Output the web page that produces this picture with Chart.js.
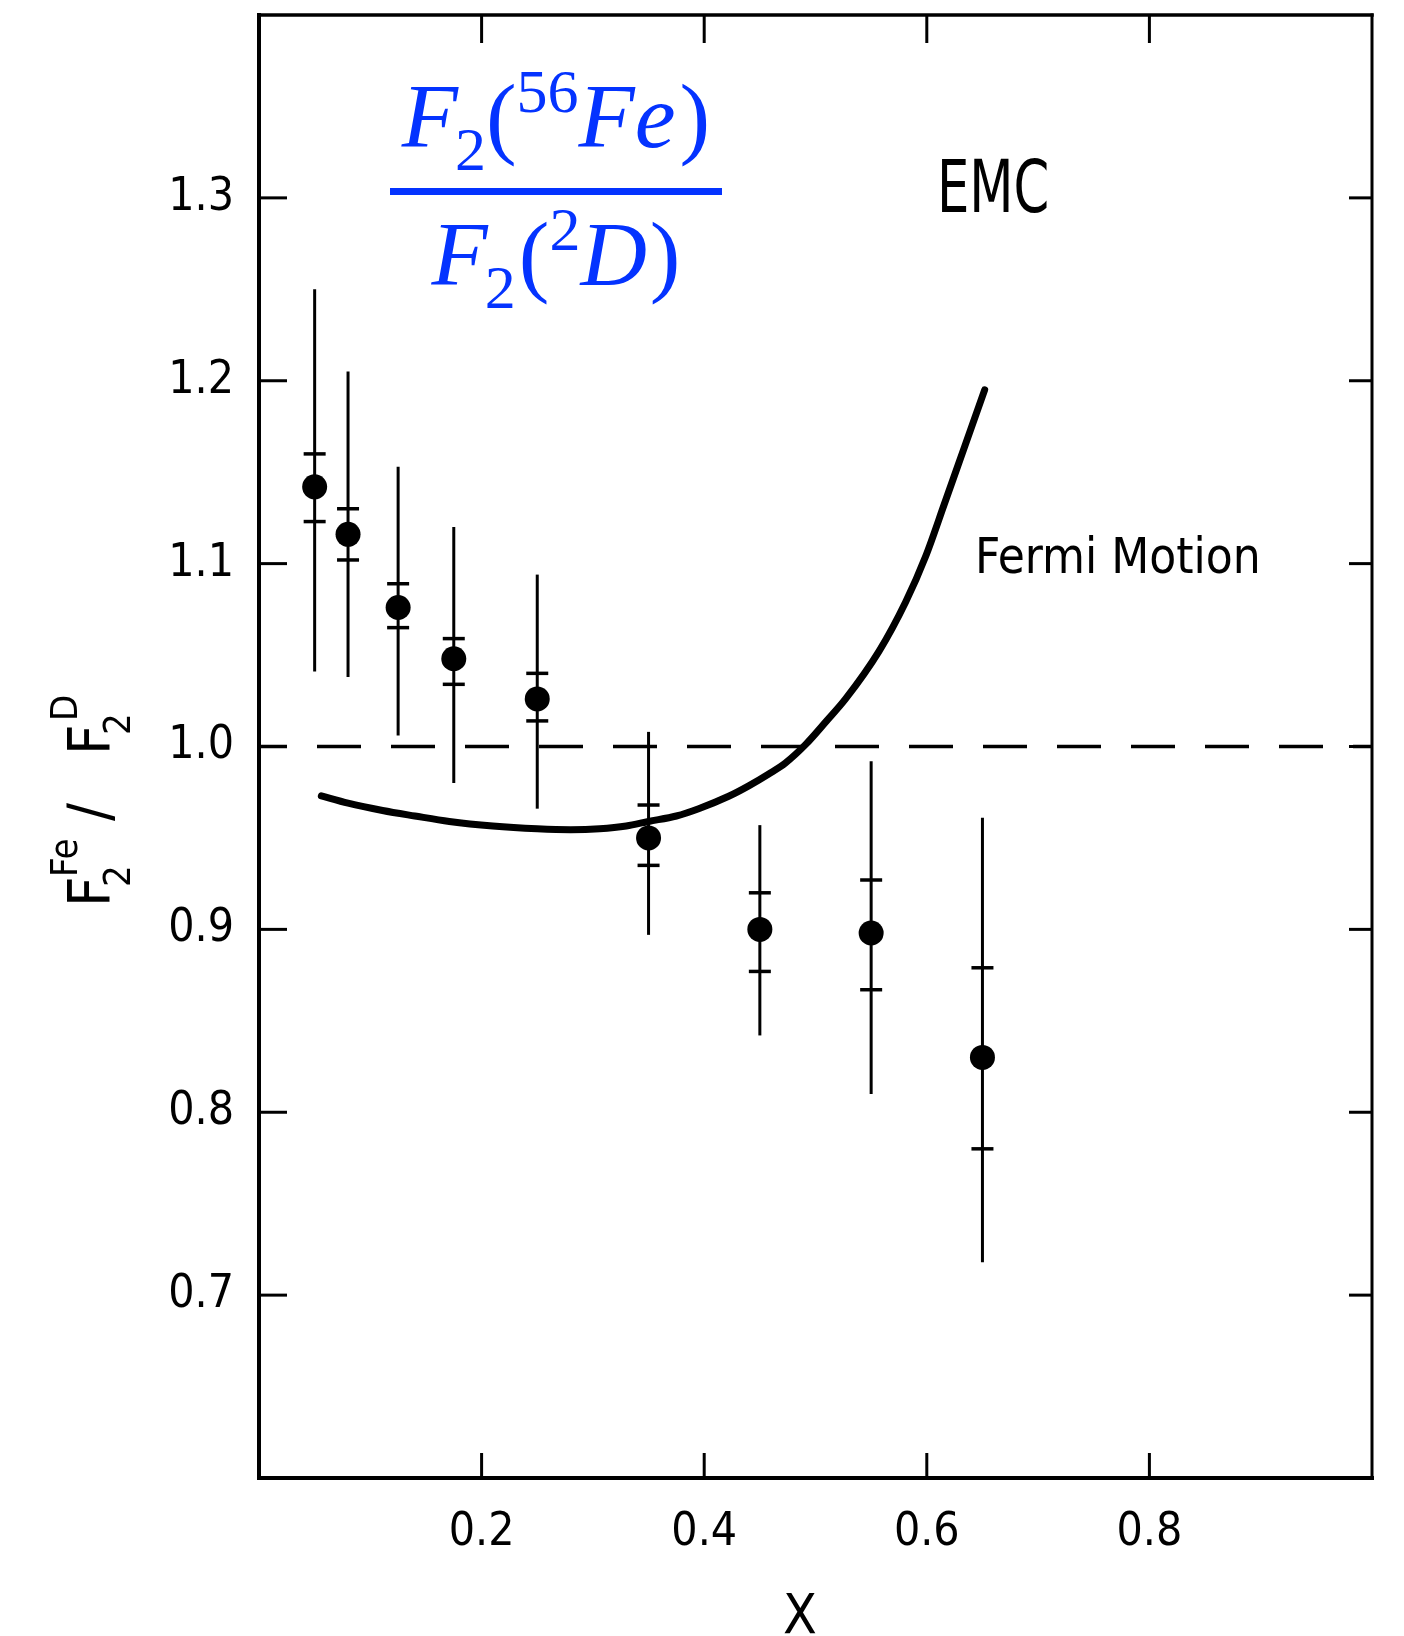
<!DOCTYPE html>
<html><head><meta charset="utf-8">
<script src="https://cdn.jsdelivr.net/npm/chart.js@4.4.1/dist/chart.umd.min.js"></script>
<style>html,body{margin:0;padding:0;background:#fff;}canvas{display:block;}</style>
</head><body>
<canvas id="c" width="1404" height="1636"></canvas>
<script>
// ---- data ----
const xValues    = [0.05, 0.08, 0.125, 0.175, 0.25, 0.35, 0.45, 0.55, 0.65];
const ratioValues= [1.142, 1.116, 1.076, 1.048, 1.026, 0.950, 0.900, 0.898, 0.830];
const totalLow   = [1.041, 1.038, 1.006, 0.980, 0.966, 0.897, 0.842, 0.810, 0.718];
const totalHigh  = [1.250, 1.205, 1.153, 1.120, 1.094, 1.008, 0.957, 0.992, 0.961];
const statLow    = [1.123, 1.102, 1.065, 1.034, 1.014, 0.935, 0.877, 0.867, 0.780];
const statHigh   = [1.160, 1.130, 1.089, 1.059, 1.040, 0.968, 0.920, 0.927, 0.879];
const fermiX = [0.056, 0.080, 0.111, 0.140, 0.171, 0.210, 0.250, 0.280, 0.306, 0.330, 0.350, 0.375, 0.395, 0.422, 0.440, 0.458, 0.473, 0.491, 0.510, 0.527, 0.557, 0.581, 0.599, 0.616, 0.634, 0.652];
const fermiY = [0.973, 0.969, 0.965, 0.962, 0.959, 0.9565, 0.955, 0.9545, 0.955, 0.9565, 0.959, 0.962, 0.966, 0.9728, 0.9785, 0.985, 0.991, 1.001, 1.014, 1.026, 1.052, 1.079, 1.104, 1.133, 1.164, 1.195];
const unityX = [0, 1];
const unityY = [1.0, 1.0];
const xTickValues = [0.2, 0.4, 0.6, 0.8];
const yTickValues = [0.7, 0.8, 0.9, 1.0, 1.1, 1.2, 1.3];
const xRange = [0, 1];
const yRange = [0.6, 1.4];

const COND = "'DejaVu Sans Condensed', 'DejaVu Sans', sans-serif";
const SERIF = "'Liberation Serif', 'DejaVu Serif', serif";
const BLUE = '#0433ff';

function seg(ctx, x1, y1, x2, y2, w) {
  ctx.lineWidth = w; ctx.beginPath(); ctx.moveTo(x1, y1); ctx.lineTo(x2, y2); ctx.stroke();
}

const errorBars = {
  id: 'errorBars',
  beforeDatasetsDraw(chart) {
    const {ctx, scales: {x, y}} = chart;
    ctx.save();
    ctx.strokeStyle = '#000';
    ctx.lineCap = 'butt';
    for (let i = 0; i < xValues.length; i++) {
      const px = x.getPixelForValue(xValues[i]);
      seg(ctx, px, y.getPixelForValue(totalLow[i]), px, y.getPixelForValue(totalHigh[i]), 3);
      [statLow[i], statHigh[i]].forEach(v => {
        const py = y.getPixelForValue(v);
        seg(ctx, px - 11, py, px + 11, py, 3.5);
      });
    }
    ctx.restore();
  }
};

function drawRun(ctx, parts, x, baseY) {
  let cx = x;
  parts.forEach(p => { ctx.font = p[1]; ctx.fillText(p[0], cx, baseY + p[2]); cx += ctx.measureText(p[0]).width + (p[3] || 0); });
  return cx - x;
}
function runWidth(ctx, parts) {
  let w = 0;
  parts.forEach(p => { ctx.font = p[1]; w += ctx.measureText(p[0]).width + (p[3] || 0); });
  return w;
}

const decor = {
  id: 'decor',
  afterDraw(chart) {
    const {ctx, chartArea: a, scales: {x, y}} = chart;
    ctx.save();
    ctx.strokeStyle = '#000';
    ctx.fillStyle = '#000';
    ctx.lineCap = 'square';
    // frame
    seg(ctx, a.left, a.top, a.left, a.bottom, 4);
    seg(ctx, a.left, a.bottom, a.right, a.bottom, 4);
    seg(ctx, a.left, a.top, a.right, a.top, 3.5);
    seg(ctx, a.right, a.top, a.right, a.bottom, 3);
    ctx.lineCap = 'butt';
    // inward ticks
    y.ticks.forEach(t => {
      const py = y.getPixelForValue(t.value);
      seg(ctx, a.left, py, a.left + 28, py, 3);
      seg(ctx, a.right, py, a.right - 23, py, 3);
    });
    x.ticks.forEach(t => {
      const px = x.getPixelForValue(t.value);
      seg(ctx, px, a.bottom, px, a.bottom - 25, 3);
      seg(ctx, px, a.top, px, a.top + 28, 3);
    });

    ctx.textBaseline = 'alphabetic';
    ctx.textAlign = 'left';
    // EMC
    ctx.save();
    ctx.translate(937, 212);
    ctx.scale(0.78, 1);
    ctx.font = `73px ${COND}`;
    ctx.fillText('EMC', 0, 0);
    ctx.restore();
    // Fermi Motion
    ctx.font = `49px ${COND}`;
    ctx.fillText('Fermi Motion', 975, 573);
    // x axis title
    ctx.font = `55px ${COND}`;
    ctx.textAlign = 'center';
    ctx.fillText('X', 800, 1633);
    ctx.textAlign = 'left';

    // y axis title (rotated)
    ctx.save();
    ctx.translate(110, 907);
    ctx.rotate(-Math.PI / 2);
    const big = `59px ${COND}`, small = `38px ${COND}`;
    ctx.font = big; ctx.fillText('F', 0, 0);
    ctx.font = small; ctx.fillText('2', 20, 20); ctx.fillText('Fe', 30, -33);
    ctx.font = big; ctx.fillText('/', 86, 0);
    ctx.font = big; ctx.fillText('F', 152, 0);
    ctx.font = small; ctx.fillText('2', 172, 20); ctx.fillText('D', 186, -33);
    ctx.restore();

    // blue fraction
    ctx.fillStyle = BLUE;
    const it = `italic 92px ${SERIF}`, rm = `92px ${SERIF}`, sm = `62px ${SERIF}`;
    const num = [['F', it, 0, -3], ['2', sm, 23], ['(', rm, 0], ['56', sm, -35], ['Fe', it, 0, 4], [')', rm, 0]];
    const den = [['F', it, 0, -3], ['2', sm, 23, 3], ['(', rm, 0], ['2', sm, -35], ['D', it, 0, 3], [')', rm, 0]];
    const cx = 556;
    drawRun(ctx, num, cx - runWidth(ctx, num) / 2, 147);
    drawRun(ctx, den, cx - runWidth(ctx, den) / 2, 285);
    ctx.fillRect(390, 188, 332, 7);
    ctx.restore();
  }
};

new Chart(document.getElementById('c'), {
  type: 'scatter',
  data: {
    datasets: [
      {
        label: 'Fermi Motion',
        data: fermiX.map((v, i) => ({x: v, y: fermiY[i]})),
        showLine: true,
        borderColor: '#000',
        borderWidth: 7,
        pointRadius: 0,
        cubicInterpolationMode: 'monotone',
        borderCapStyle: 'round',
        fill: false,
        order: 2
      },
      {
        label: 'unity',
        data: unityX.map((v, i) => ({x: v, y: unityY[i]})),
        showLine: true,
        borderColor: '#000',
        borderWidth: 3.5,
        borderDash: [44, 30],
        borderDashOffset: 16,
        pointRadius: 0,
        fill: false,
        order: 3
      },
      {
        label: 'EMC',
        data: xValues.map((v, i) => ({x: v, y: ratioValues[i]})),
        showLine: false,
        pointRadius: 12.5,
        pointBackgroundColor: '#000',
        pointBorderWidth: 0,
        order: 1
      }
    ]
  },
  options: {
    responsive: false,
    animation: false,
    devicePixelRatio: 1,
    layout: {padding: {top: 15, right: 32, left: 0, bottom: 0}},
    plugins: {legend: {display: false}, tooltip: {enabled: false}},
    scales: {
      x: {
        type: 'linear', min: xRange[0], max: xRange[1],
        afterBuildTicks: s => { s.ticks = xTickValues.map(v => ({value: v})); },
        afterFit: s => { s.height = 158; s.paddingLeft = 0; s.paddingRight = 0; },
        grid: {display: false, drawTicks: false},
        border: {display: false},
        ticks: {
          padding: 27, color: '#000', maxRotation: 0, autoSkip: false,
          font: {family: COND, size: 46},
          callback: v => Number(v).toFixed(1)
        }
      },
      y: {
        type: 'linear', min: yRange[0], max: yRange[1],
        afterBuildTicks: s => { s.ticks = yTickValues.map(v => ({value: v})); },
        afterFit: s => { s.width = 259; s.paddingTop = 0; s.paddingBottom = 0; },
        grid: {display: false, drawTicks: false},
        border: {display: false},
        ticks: {
          padding: 25, color: '#000', autoSkip: false,
          font: {family: COND, size: 46},
          callback: v => Number(v).toFixed(1)
        }
      }
    }
  },
  plugins: [errorBars, decor]
});
</script>
</body></html>
